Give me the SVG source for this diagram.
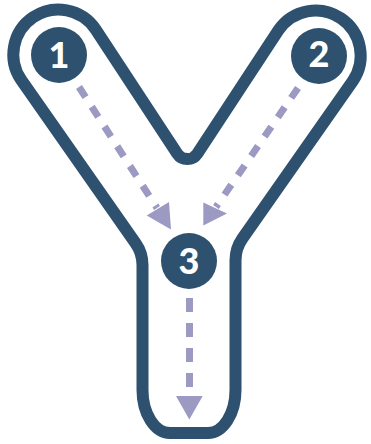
<svg xmlns="http://www.w3.org/2000/svg" width="371" height="444" viewBox="0 0 371 444">
  <style>
    .outline { fill: none; stroke: #2e5170; stroke-width: 12; stroke-linejoin: round; }
    .node circle { fill: #2e5170; }
    .node text { fill: #ffffff; font-family: "Lato", "Liberation Sans", sans-serif; font-weight: 900; font-size: 36px; text-anchor: middle; }
    .dash { fill: none; stroke: #9c99c3; stroke-width: 7; }
    .head { fill: #9c99c3; }
  </style>
  <rect width="371" height="444" fill="#ffffff"/>
  <g id="outline">
    <path class="outline" d="M 142.5 390 L 142.5 265 Q 142.5 253 135.6 243.2 L 21.1 79.8 A 45 45 0 0 1 95.6 29.3 L 177.3 153.7 A 12 12 0 0 0 197.3 153.7 L 278.4 30.3 A 45 45 0 0 1 352.9 80.8 L 242.4 238.5 Q 235.5 248.3 235.5 260.3 L 235.5 390 C 235.5 413.7 223.2 433 208 433 L 170 433 C 154.8 433 142.5 413.7 142.5 390 Z"/>
  </g>
  <g id="connectors">
    <line class="dash" x1="79" y1="87" x2="157" y2="208" stroke-dasharray="12 11.5"/>
    <polygon class="head" points="146.7,215.5 169,202 171,229.5"/>
    <line class="dash" x1="298" y1="88" x2="216" y2="207" stroke-dasharray="12 11.5"/>
    <polygon class="head" points="203.3,202.5 227,213.5 203.3,225.5"/>
    <line class="dash" x1="189.5" y1="298" x2="189.5" y2="387" stroke-dasharray="14 11"/>
    <polygon class="head" points="176,396 202.7,396 189.3,419.5"/>
  </g>
  <g id="node1" class="node">
    <circle cx="59" cy="55" r="28"/>
    <text x="59" y="68">1</text>
  </g>
  <g id="node2" class="node">
    <circle cx="319" cy="56" r="28"/>
    <text x="319" y="67">2</text>
  </g>
  <g id="node3" class="node">
    <circle cx="189" cy="261" r="28"/>
    <text x="189" y="274">3</text>
  </g>
</svg>
